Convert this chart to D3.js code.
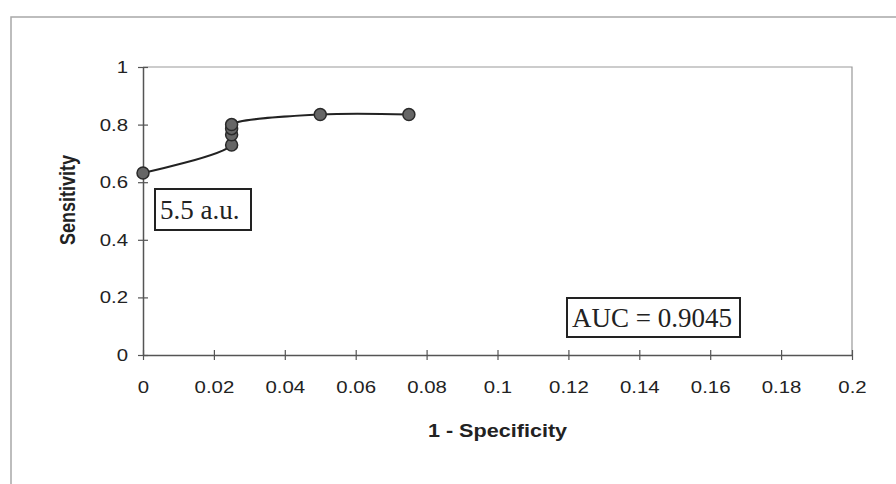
<!DOCTYPE html>
<html>
<head>
<meta charset="utf-8">
<script src="https://cdn.jsdelivr.net/npm/d3@7/dist/d3.min.js"></script>
<style>
  html, body { margin: 0; padding: 0; background: #fff; }
  svg { display: block; }
  .tick text { font-family: Arial, "Liberation Sans", sans-serif; font-size: 17px; fill: #222; }
</style>
</head>
<body>
<svg id="chart" width="896" height="484"></svg>
<script>
// ROC curve points: 1 - specificity vs. sensitivity
const falsePositiveRate = [0, 0.025, 0.025, 0.025, 0.025, 0.05, 0.075];
const sensitivity       = [0.632, 0.729, 0.765, 0.786, 0.80, 0.835, 0.835];
const xTicks = [0, 0.02, 0.04, 0.06, 0.08, 0.1, 0.12, 0.14, 0.16, 0.18, 0.2];
const yTicks = [0, 0.2, 0.4, 0.6, 0.8, 1];
const cutoffLabel = "5.5 a.u.";
const aucLabel = "AUC = 0.9045";

const svg = d3.select("#chart");
const plotL = 143, plotR = 852, plotT = 67, plotB = 355;
const stretch = 1.2; // horizontal widening of the sans-serif labels

const x = d3.scaleLinear().domain([0, 0.2]).range([plotL, plotR]);
const y = d3.scaleLinear().domain([0, 1]).range([plotB, plotT]);

// outer chart border
svg.append("rect")
  .attr("x", 11).attr("y", 17).attr("width", 900).attr("height", 500)
  .attr("fill", "none").attr("stroke", "#a8a8a8").attr("stroke-width", 1.5);

// plot-area frame (top and right)
svg.append("path")
  .attr("d", `M${plotL},${plotT}H${plotR}V${plotB}`)
  .attr("fill", "none").attr("stroke", "#999").attr("stroke-width", 1.2);

// axes
const fmt = d => d3.format("")(+d.toFixed(2));
const xAxis = svg.append("g").attr("transform", `translate(0,${plotB})`)
  .call(d3.axisBottom(x).tickValues(xTicks).tickFormat(fmt).tickSize(0).tickPadding(26));
xAxis.select(".domain").attr("stroke", "#555").attr("stroke-width", 1.5);
xAxis.selectAll(".tick text").attr("transform", `scale(${stretch},1)`);
xAxis.selectAll(".tick").append("line")
  .attr("y1", -5).attr("y2", 5).attr("stroke", "#555").attr("stroke-width", 1.2);

const yAxis = svg.append("g").attr("transform", `translate(${plotL},0)`)
  .call(d3.axisLeft(y).tickValues(yTicks).tickFormat(fmt).tickSize(0));
yAxis.select(".domain").attr("stroke", "#555").attr("stroke-width", 1.5);
yAxis.selectAll(".tick text")
  .attr("x", -15 / stretch)
  .attr("transform", `scale(${stretch},1)`);
yAxis.selectAll(".tick").append("line")
  .attr("x1", -5).attr("x2", 5).attr("stroke", "#555").attr("stroke-width", 1.2);

// axis titles
svg.append("text")
  .attr("transform", `translate(${(plotL + plotR) / 2},437) scale(${stretch},1)`)
  .attr("text-anchor", "middle")
  .style("font-family", "Arial, 'Liberation Sans', sans-serif")
  .style("font-size", "18px").style("font-weight", "bold").attr("fill", "#222")
  .text("1 - Specificity");

svg.append("text")
  .attr("transform", `translate(75,200) rotate(-90) scale(1,${stretch})`)
  .attr("text-anchor", "middle")
  .style("font-family", "Arial, 'Liberation Sans', sans-serif")
  .style("font-size", "18px").style("font-weight", "bold").attr("fill", "#222")
  .text("Sensitivity");

// smoothed ROC line
const pts = falsePositiveRate.map((v, i) => [v, sensitivity[i]]);
svg.append("path")
  .datum(pts)
  .attr("d", d3.line().x(d => x(d[0])).y(d => y(d[1])).curve(d3.curveCatmullRom.alpha(0.5)))
  .attr("fill", "none").attr("stroke", "#222").attr("stroke-width", 2);

// markers
svg.selectAll("circle.pt").data(pts).join("circle")
  .attr("class", "pt")
  .attr("cx", d => x(d[0])).attr("cy", d => y(d[1])).attr("r", 6)
  .attr("fill", "#666").attr("stroke", "#2a2a2a").attr("stroke-width", 1.5);

// boxed annotations
function boxLabel(bx, by, bw, bh, txt) {
  svg.append("rect")
    .attr("x", bx).attr("y", by).attr("width", bw).attr("height", bh)
    .attr("fill", "#fff").attr("stroke", "#222").attr("stroke-width", 2);
  svg.append("text")
    .attr("x", bx + 5).attr("y", by + bh / 2 + 9)
    .style("font-family", "'Times New Roman', 'Liberation Serif', serif")
    .style("font-size", "27px").attr("fill", "#222")
    .text(txt);
}
boxLabel(155, 189, 96, 41, cutoffLabel);
boxLabel(567, 298, 173, 39, aucLabel);
</script>
</body>
</html>
